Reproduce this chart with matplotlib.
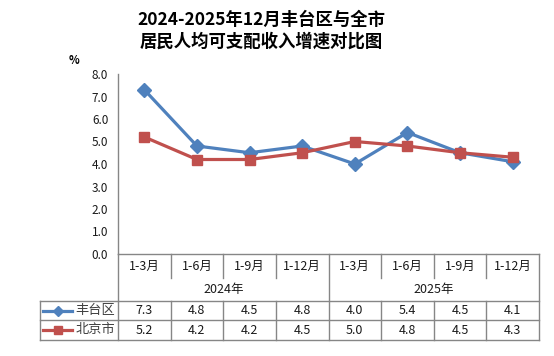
import matplotlib.pyplot as plt
from matplotlib.lines import Line2D

plt.rcParams['font.family'] = ['Noto Sans CJK SC', 'DejaVu Sans']

# ── 数据 ──────────────────────────────────────────────────────────────
periods = ["1-3月", "1-6月", "1-9月", "1-12月", "1-3月", "1-6月", "1-9月", "1-12月"]
years = ["2024年", "2025年"]
fengtai = [7.3, 4.8, 4.5, 4.8, 4.0, 5.4, 4.5, 4.1]
beijing = [5.2, 4.2, 4.2, 4.5, 5.0, 4.8, 4.5, 4.3]
series_names = ["丰台区", "北京市"]
series_colors = ["#4F81BD", "#C0504D"]
series_markers = ["D", "s"]

W, H = 554, 356
fig = plt.figure(figsize=(W / 100, H / 100), dpi=100)
fig.patch.set_facecolor("white")

# 像素 -> 图坐标
def fx(x):
    return x / W

def fy(y):
    return 1 - y / H

X0, X1 = 118, 539
Y_TOP, Y_BOT = 74, 254
ax = fig.add_axes([fx(X0), fy(Y_BOT), fx(X1) - fx(X0), (Y_BOT - Y_TOP) / H])

n = len(periods)
xs = list(range(n))
for vals, c, m, ms in zip([fengtai, beijing], series_colors, series_markers, [7.5, 7]):
    ax.plot(xs, vals, color=c, lw=2.3, marker=m, ms=ms, zorder=3)

ax.set_xlim(-0.5, n - 0.5)
ax.set_ylim(0, 8)
ax.set_yticks([i * 1.0 for i in range(9)])
ax.set_yticklabels([f"{i:.1f}" for i in range(9)], fontsize=8.5, color="#1a1a1a")
ax.tick_params(axis="y", length=0, pad=7)
ax.set_xticks([])
for s in ["top", "right"]:
    ax.spines[s].set_visible(False)
for s in ["left", "bottom"]:
    ax.spines[s].set_color("#868686")
    ax.spines[s].set_linewidth(1)

fig.text(fx(261), fy(20), "2024-2025年12月丰台区与全市", ha="center", va="center",
         fontsize=12.5, fontweight="bold", color="black")
fig.text(fx(261), fy(42), "居民人均可支配收入增速对比图", ha="center", va="center",
         fontsize=12.5, fontweight="bold", color="black")
fig.text(fx(74), fy(60), "%", ha="center", va="center", fontsize=8, fontweight="bold")

# ── 数据表 ────────────────────────────────────────────────────────────
gc = "#868686"
cw = (X1 - X0) / n

def hline(y, xa, xb):
    fig.add_artist(Line2D([fx(xa), fx(xb)], [fy(y), fy(y)], color=gc, lw=1))

def vline(x, ya, yb):
    fig.add_artist(Line2D([fx(x), fx(x)], [fy(ya), fy(yb)], color=gc, lw=1))

R1, R2, R3, R4 = 278, 301, 320, 340
L0 = 40
hline(R2, L0, X1)
hline(R3, L0, X1)
hline(R4, L0, X1)
vline(L0, R2, R4)
for i in range(n + 1):
    x = X0 + i * cw
    if i % 4 == 0:
        vline(x, Y_BOT, R4)
    else:
        vline(x, Y_BOT, R1)
        vline(x, R2, R4)

for i, p in enumerate(periods):
    fig.text(fx(X0 + (i + 0.5) * cw), fy(266), p, ha="center", va="center",
             fontsize=9, color="#1a1a1a")
for j, yr in enumerate(years):
    fig.text(fx(X0 + (j * 4 + 2) * cw), fy(290), yr, ha="center", va="center",
             fontsize=9, color="#1a1a1a")

for r, (name, vals, c, m) in enumerate(zip(series_names, [fengtai, beijing],
                                           series_colors, series_markers)):
    yc = (R2 + R3) / 2 if r == 0 else (R3 + R4) / 2
    fig.add_artist(Line2D([fx(43), fx(72)], [fy(yc), fy(yc)], color=c, lw=2.3))
    fig.add_artist(Line2D([fx(57.5)], [fy(yc)], color=c, marker=m,
                          ms=5 if m == "D" else 6, lw=0))
    fig.text(fx(95.5), fy(yc), name, ha="center", va="center", fontsize=9.5,
             color="#404040")
    for i, v in enumerate(vals):
        fig.text(fx(X0 + (i + 0.5) * cw), fy(yc), f"{v:.1f}", ha="center",
                 va="center", fontsize=9, color="#1a1a1a")

fig.savefig("out.png", dpi=100, facecolor="white")
